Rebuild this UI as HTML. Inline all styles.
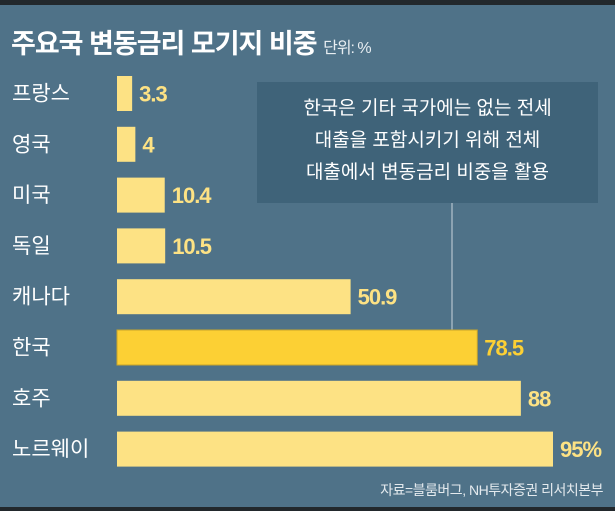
<!DOCTYPE html>
<html><head><meta charset="utf-8"><style>
body{margin:0;width:615px;height:511px;overflow:hidden;background:#22282c;font-family:"Liberation Sans","Noto Sans CJK KR",sans-serif;}
#wrap{position:absolute;left:0;top:5px;width:615px;height:502px;background:#4f7288;}
.t{position:absolute;color:#fff;white-space:nowrap;}
</style></head><body>
<div id="wrap"></div>
<div class="t" style="left:11px;top:22px;font-size:27px;font-weight:bold;letter-spacing:-1px;">주요국 변동금리 모기지 비중 <span style="font-size:16px;font-weight:normal;color:#e8eef2;">단위: %</span></div>
<svg id="chart" width="615" height="511" style="position:absolute;left:0;top:0"></svg>
<div style="position:absolute;left:257px;top:82px;width:341px;height:121px;background:#3f6379;color:#fff;font-size:19px;line-height:32px;text-align:center;padding-top:11px;box-sizing:border-box;">한국은 기타 국가에는 없는 전세<br>대출을 포함시키기 위해 전체<br>대출에서 변동금리 비중을 활용</div>
<div class="t" style="right:12px;top:480px;font-size:14px;color:#e4eaee;letter-spacing:-0.5px;">자료=블룸버그, NH투자증권 리서치본부</div>
<script>
const categories=["프랑스","영국","미국","독일","캐나다","한국","호주","노르웨이"];
const values=[3.3,4,10.4,10.5,50.9,78.5,88,95];
const valueLabels=["3.3","4","10.4","10.5","50.9","78.5","88","95%"];
const highlight="한국";
const svg=document.getElementById('chart');
const NS="http://www.w3.org/2000/svg";
const x0=117, xScale=v=>x0+v*(436/95);
const yBand=i=>76+i*50.8, bh=35;
const ln=document.createElementNS(NS,'line');
ln.setAttribute('x1',452);ln.setAttribute('x2',452);ln.setAttribute('y1',203);ln.setAttribute('y2',330);
ln.setAttribute('stroke','#c9d4dc');ln.setAttribute('stroke-width','1');


svg.appendChild(ln);
categories.forEach((c,i)=>{
  const y=yBand(i), hl=c===highlight;
  const r=document.createElementNS(NS,'rect');
  r.setAttribute('x',x0);r.setAttribute('y',y);r.setAttribute('width',xScale(values[i])-x0);r.setAttribute('height',bh);
  r.setAttribute('fill',hl?'#fcd034':'#fde284');
  if(hl){r.setAttribute('stroke','#c9a52a');r.setAttribute('stroke-width','1');}
  
  
  svg.appendChild(r);
  const l=document.createElementNS(NS,'text');
  l.setAttribute('x',12);l.setAttribute('y',y+bh/2+7);l.setAttribute('fill','#fff');l.setAttribute('font-size','21');
  l.setAttribute('font-family','"Liberation Sans","Noto Sans CJK KR",sans-serif');
  l.textContent=c;
  
  
  svg.appendChild(l);
  const v=document.createElementNS(NS,'text');
  v.setAttribute('x',xScale(values[i])+7);v.setAttribute('y',y+bh/2+8);v.setAttribute('fill',hl?'#fcd034':'#fde284');
  v.setAttribute('font-size','22');v.setAttribute('font-weight','bold');v.setAttribute('letter-spacing','-1');
  v.setAttribute('font-family','"Liberation Sans Narrow","Liberation Sans",sans-serif');
  v.textContent=valueLabels[i];
  
  
  svg.appendChild(v);
});
</script>
</body></html>
